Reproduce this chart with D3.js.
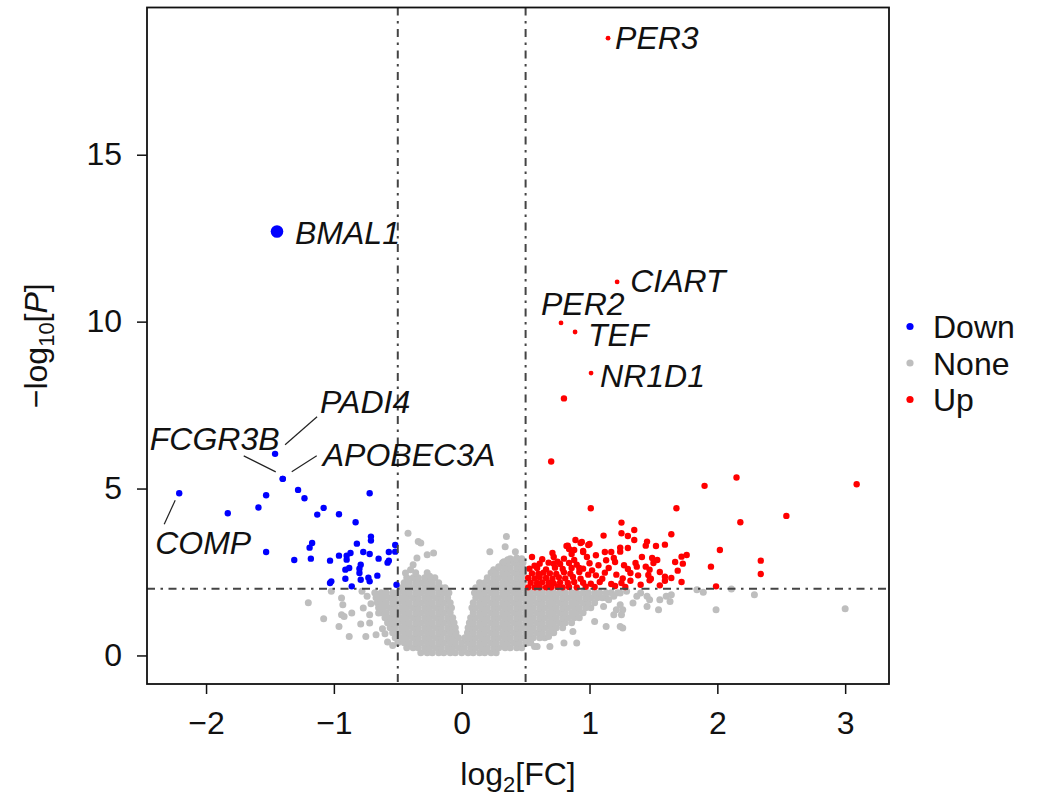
<!DOCTYPE html>
<html>
<head>
<meta charset="utf-8">
<script src="https://cdn.jsdelivr.net/npm/d3@7"></script>
<style>
  body { margin: 0; background: #fff; }
  svg { display: block; }
  text { font-family: "Liberation Sans", Arial, Helvetica, sans-serif; }
</style>
</head>
<body>
<div id="chart"></div>
<script>
// cut-offs and ticks
const fcCut = 0.5
const pCut = 2
const xTicks = [-2, -1, 0, 1, 2, 3]
const yTicks = [0, 5, 10, 15]
const groups = ['Down', 'None', 'Up']

// labelled genes: [gene, log2FC, -log10P, group]
const labelled = [
  ['PER3', 1.145, 18.49, 'Up'],
  ['BMAL1', -1.445, 12.70, 'Down'],
  ['CIART', 1.216, 11.19, 'Up'],
  ['PER2', 0.777, 9.96, 'Up'],
  ['TEF', 0.887, 9.69, 'Up'],
  ['NR1D1', 1.012, 8.46, 'Up'],
  ['PADI4', -1.46, 6.04, 'Down'],
  ['FCGR3B', -1.40, 5.29, 'Down'],
  ['APOBEC3A', -1.40, 5.29, 'Down'],
  ['COMP', -2.21, 4.86, 'Down']
]

// up-regulated genes [log2FC, -log10P]
const upPoints = [
  [0.80,7.70],[0.70,5.81],[1.01,4.41],[1.68,4.41],[1.90,5.08],[2.15,5.33],[3.09,5.13],[2.54,4.18],[2.18,3.99],[2.02,3.16],
  [2.34,2.84],[2.34,2.44],[1.95,2.66],[1.99,2.07],[1.25,3.98],[1.35,3.76],[1.25,3.66],[1.30,3.58],[1.35,3.46],[1.11,3.59],
  [1.64,3.63],[0.89,3.46],[0.94,3.40],[1.00,3.34],[0.83,3.29],[0.84,3.19],[0.88,3.16],[0.86,3.04],[0.95,3.10],[1.12,3.10],
  [1.17,3.10],[1.19,2.92],[1.24,3.23],[1.24,3.11],[1.45,3.41],[1.44,3.29],[1.52,3.28],[1.59,3.32],[1.76,3.01],[1.72,2.96],
  [1.67,2.80],[1.73,2.75],[1.69,2.54],[1.72,2.20],[1.49,2.92],[1.53,2.86],[1.50,2.77],[1.36,2.77],[1.37,2.66],[1.30,2.59],
  [1.32,2.47],[1.44,2.66],[1.47,2.57],[1.46,2.41],[1.55,2.50],[1.59,2.36],[1.64,2.32],[1.59,2.24],[1.48,2.30],[1.47,2.25],
  [1.26,2.31],[1.25,2.17],[1.32,2.24],[1.17,2.14],[1.08,2.20],[1.10,2.30],[0.71,3.07],[0.55,2.95],[0.57,2.69],[0.72,2.95],
  [0.75,2.81],[0.72,2.75],[0.82,3.28],[0.93,3.37],[0.99,3.31],[0.95,3.13],[1.30,3.22],
  [0.52,2.04],[0.57,2.04],[0.61,2.04],[0.66,2.04],[0.70,2.04],[0.75,2.05],[0.79,2.04],[0.84,2.05],[0.90,2.04],[0.97,2.06],[1.04,2.05],
  [0.54,2.18],[0.59,2.17],[0.63,2.19],[0.68,2.18],[0.72,2.16],[0.77,2.19],[0.83,2.17],[0.88,2.20],[0.95,2.18],[1.01,2.15],
  [0.52,2.32],[0.57,2.31],[0.61,2.34],[0.66,2.32],[0.71,2.30],[0.76,2.34],[0.81,2.31],[0.87,2.35],[0.93,2.30],
  [0.55,2.46],[0.60,2.45],[0.64,2.48],[0.69,2.46],[0.74,2.44],[0.80,2.49],[0.85,2.45],[0.92,2.50],[0.99,2.42],
  [0.53,2.60],[0.59,2.62],[0.66,2.58],[0.73,2.63],[0.79,2.59],[0.86,2.62],[0.95,2.60],
  [0.61,2.75],[0.68,2.78],[0.77,2.74],[0.84,2.77],[0.90,2.72],[1.00,2.76],
  [0.63,2.88],[0.80,2.90],[0.88,2.86],[1.02,2.55],[1.05,2.40],[1.12,2.48],[1.15,2.62],[1.20,2.80],[1.07,2.70],[1.21,2.42],
  [0.98,2.95],[1.05,3.00],[1.40,2.12],[1.55,2.10],[1.38,2.40],[1.20,2.08],[0.92,2.62],[1.28,2.05],[1.13,2.85],[1.41,2.95],[1.27,2.70]
]

// down-regulated genes [log2FC, -log10P]
const downPoints = [
  [-1.53,4.80],[-1.28,4.96],[-1.23,4.71],[-0.72,4.86],[-1.83,4.26],[-1.59,4.43],[-1.08,4.42],[-1.13,4.22],[-0.96,4.23],[-0.83,3.99],
  [-0.71,3.56],[-0.71,3.44],[-0.82,3.35],[-1.17,3.37],[-1.19,3.23],[-1.53,3.10],[-1.31,2.86],[-1.18,2.90],[-1.03,2.84],[-0.96,2.99],
  [-0.90,2.99],[-0.87,3.07],[-0.77,3.10],[-0.72,3.04],[-0.65,2.90],[-0.57,3.10],[-0.52,3.31],[-0.52,3.11],[-0.58,2.78],[-0.57,2.84],
  [-0.91,2.57],[-0.88,2.62],[-0.80,2.60],[-0.80,2.47],[-0.79,2.72],[-0.91,2.30],[-0.79,2.27],[-0.73,2.33],[-0.72,2.22],[-0.66,2.39],
  [-1.03,2.17],[-1.02,2.22],[-0.86,2.07],[-0.51,2.12],[-0.90,2.87]
]

// non-significant genes, dense core read row by row: [-log10P, [log2FC ...]]
const noneRows = [
  [0.08, [-0.32,-0.27,-0.23,-0.18,-0.14,-0.09,-0.05,0,0.05,0.09,0.14,0.18,0.23,0.27]],
  [0.23, [-0.43,-0.38,-0.34,-0.29,-0.25,-0.20,-0.16,-0.11,-0.07,-0.02,0.02,0.07,0.11,0.16,0.20,0.25,0.29,0.34,0.38,0.43,0.47]],
  [0.38, [-0.50,-0.45,-0.41,-0.36,-0.32,-0.27,-0.23,-0.18,-0.14,-0.09,-0.05,0,0.05,0.09,0.14,0.18,0.23,0.27,0.32,0.36,0.41,0.45,0.50,0.54]],
  [0.53, [-0.52,-0.47,-0.43,-0.38,-0.34,-0.29,-0.25,-0.20,-0.16,-0.11,-0.07,-0.025,0.025,0.07,0.11,0.16,0.20,0.25,0.29,0.34,0.38,0.43,0.47,0.52,0.56,0.61,0.65]],
  [0.68, [-0.54,-0.50,-0.45,-0.41,-0.36,-0.32,-0.27,-0.23,-0.18,-0.14,-0.09,-0.045,0.045,0.09,0.14,0.18,0.23,0.27,0.32,0.36,0.41,0.45,0.50,0.54,0.59,0.63,0.68,0.72]],
  [0.83, [-0.56,-0.52,-0.47,-0.43,-0.38,-0.34,-0.29,-0.25,-0.20,-0.16,-0.11,-0.07,-0.05,0.05,0.07,0.11,0.16,0.20,0.25,0.29,0.34,0.38,0.43,0.47,0.52,0.56,0.61,0.65,0.70,0.74,0.79]],
  [0.98, [-0.58,-0.54,-0.50,-0.45,-0.41,-0.36,-0.32,-0.27,-0.23,-0.18,-0.14,-0.09,-0.06,0.06,0.09,0.14,0.18,0.23,0.27,0.32,0.36,0.41,0.45,0.50,0.54,0.59,0.63,0.68,0.72,0.77,0.81,0.86]],
  [1.13, [-0.60,-0.56,-0.52,-0.47,-0.43,-0.38,-0.34,-0.29,-0.25,-0.20,-0.16,-0.11,-0.07,0.07,0.11,0.16,0.20,0.25,0.29,0.34,0.38,0.43,0.47,0.52,0.56,0.61,0.65,0.70,0.74,0.79,0.83,0.88,0.92]],
  [1.28, [-0.63,-0.59,-0.54,-0.50,-0.45,-0.41,-0.36,-0.32,-0.27,-0.23,-0.18,-0.14,-0.09,0.09,0.14,0.18,0.23,0.27,0.32,0.36,0.41,0.45,0.50,0.54,0.59,0.63,0.68,0.72,0.77,0.81,0.86,0.90,0.95]],
  [1.43, [-0.65,-0.61,-0.56,-0.52,-0.47,-0.43,-0.38,-0.34,-0.29,-0.25,-0.20,-0.16,-0.11,-0.08,0.08,0.11,0.16,0.20,0.25,0.29,0.34,0.38,0.43,0.47,0.52,0.56,0.61,0.65,0.70,0.74,0.79,0.83,0.88,0.92,0.97,1.01]],
  [1.58, [-0.66,-0.63,-0.59,-0.54,-0.50,-0.45,-0.41,-0.36,-0.32,-0.27,-0.23,-0.18,-0.14,-0.09,0.09,0.14,0.18,0.23,0.27,0.32,0.36,0.41,0.45,0.50,0.54,0.59,0.63,0.68,0.72,0.77,0.81,0.86,0.90,0.95,0.99,1.04]],
  [1.73, [-0.67,-0.65,-0.61,-0.56,-0.52,-0.47,-0.43,-0.38,-0.34,-0.29,-0.25,-0.20,-0.16,-0.11,0.11,0.16,0.20,0.25,0.29,0.34,0.38,0.43,0.47,0.52,0.56,0.61,0.65,0.70,0.74,0.79,0.83,0.88,0.92,0.97,1.01,1.06,1.10,1.13]],
  [1.88, [-0.68,-0.63,-0.59,-0.54,-0.50,-0.45,-0.41,-0.36,-0.32,-0.27,-0.23,-0.18,-0.14,-0.10,0.10,0.14,0.18,0.23,0.27,0.32,0.36,0.41,0.45,0.50,0.54,0.59,0.63,0.68,0.72,0.77,0.81,0.86,0.90,0.95,0.99,1.04,1.08,1.13,1.17,1.22]],
  [2.03, [-0.47,-0.43,-0.38,-0.34,-0.29,-0.25,-0.20,-0.16,-0.13,0.11,0.16,0.20,0.25,0.29,0.34,0.38,0.43,0.47]],
  [2.18, [-0.45,-0.41,-0.36,-0.32,-0.27,-0.23,-0.18,0.14,0.18,0.23,0.27,0.32,0.36,0.41,0.45,0.48]],
  [2.33, [-0.43,-0.38,-0.34,-0.29,-0.25,-0.21,0.20,0.25,0.29,0.34,0.38,0.43,0.47]],
  [2.48, [-0.36,-0.27,0.23,0.27,0.32,0.36,0.41,0.45,0.48]],
  [2.63, [0.29,0.34,0.38,0.43,0.47]],
  [2.78, [0.32,0.36,0.41,0.45,0.48]],
  [2.90, [0.38,0.43,0.47]]
]

// non-significant genes outside the core [log2FC, -log10P]
const noneScatter = [
  [-1.20,1.58],[-1.08,1.10],[-0.96,0.87],[-0.94,1.22],[-0.92,1.17],[-0.86,1.27],[-0.93,1.52],[-0.94,1.72],[-1.02,1.92],[-0.88,0.57],
  [-0.75,0.57],[-0.67,0.62],[-0.79,0.94],[-0.72,0.97],[-0.72,1.22],[-0.65,1.27],[-0.77,1.42],[-0.74,1.77],[-0.78,1.92],[-0.71,1.55],
  [-0.62,0.80],[-0.58,0.40],[-0.54,0.30],[-0.60,0.65],
  [-0.42,3.66],[-0.34,3.41],[-0.32,3.37],[-0.22,3.07],[-0.27,3.02],[-0.35,2.92],[-0.40,2.57],[-0.38,2.72],[-0.25,2.37],[-0.44,2.47],
  [0.35,3.56],[0.34,3.26],[0.22,3.11],[0.42,3.11],[0.33,2.81],[0.36,2.87],[0.43,2.92],[0.25,2.57],[0.29,2.66],
  [1.19,1.77],[1.24,1.87],[1.29,1.92],[1.37,1.77],[1.40,1.87],[1.45,1.77],[1.47,1.67],[1.55,1.67],[1.60,1.77],[1.64,1.82],
  [1.63,1.62],[1.45,1.47],[1.54,1.37],[1.26,1.37],[1.24,1.52],[1.34,1.57],[1.19,1.22],[1.25,1.22],[1.13,0.87],[1.24,0.87],
  [1.26,0.82],[1.04,1.02],[1.21,1.37],[1.15,1.67],[1.11,1.47],[0.90,0.37],[0.80,0.37],[0.69,0.27],[0.59,0.27],[0.87,0.72],
  [0.68,0.57],[0.51,0.37],[0.57,0.27],
  [1.84,1.97],[1.89,1.89],[1.99,1.37],[2.11,1.99],[2.29,1.82],[3.00,1.40]
]

const colors = { Down: '#0000ff', None: '#bebebe', Up: '#ff0000' }

// label placement, pixel offsets from the point
const labelLayout = {
  PER3: { dx: 7, dy: 11 },
  BMAL1: { dx: 18, dy: 13 },
  CIART: { dx: 13, dy: 10 },
  PER2: { dx: -20, dy: -8 },
  TEF: { dx: 13, dy: 14 },
  NR1D1: { dx: 9, dy: 14 },
  PADI4: { dx: 45, dy: -41, line: [10, -9, 42, -37] },
  FCGR3B: { dx: -133, dy: -29, line: [-7, -7, -39, -23] },
  APOBEC3A: { dx: 40, dy: -13, line: [9, -7, 34, -23] },
  COMP: { dx: -24, dy: 61, line: [-4, 7, -15, 31] }
}

const width = 1045, height = 804
const plot = { left: 147, right: 889, top: 7.5, bottom: 684 }

const x = d3.scaleLinear().domain([-2.462, 3.343]).range([plot.left, plot.right])
const y = d3.scaleLinear().domain([-0.855, 19.41]).range([plot.bottom, plot.top])

const svg = d3.select('#chart')
  .append('svg')
  .attr('width', width)
  .attr('height', height)

const none = noneRows.flatMap(([p, fcs]) => fcs.map(fc => [fc, p])).concat(noneScatter)

svg.append('g')
  .selectAll('circle')
  .data(none)
  .enter()
  .append('circle')
  .attr('cx', d => x(d[0]))
  .attr('cy', d => y(d[1]))
  .attr('r', 3.5)
  .style('fill', colors.None)

svg.append('g')
  .selectAll('circle')
  .data(upPoints)
  .enter()
  .append('circle')
  .attr('cx', d => x(d[0]))
  .attr('cy', d => y(d[1]))
  .attr('r', 3.2)
  .style('fill', colors.Up)

svg.append('g')
  .selectAll('circle')
  .data(downPoints)
  .enter()
  .append('circle')
  .attr('cx', d => x(d[0]))
  .attr('cy', d => y(d[1]))
  .attr('r', 3.2)
  .style('fill', colors.Down)

svg.append('g')
  .selectAll('circle')
  .data(labelled)
  .enter()
  .append('circle')
  .attr('cx', d => x(d[1]))
  .attr('cy', d => y(d[2]))
  .attr('r', d => d[0] === 'BMAL1' ? 6.3 : (d[3] === 'Up' ? 2.4 : 3.2))
  .style('fill', d => colors[d[3]])

// threshold lines
const cuts = svg.append('g')
  .attr('stroke', '#444')
  .attr('stroke-width', 2)
  .attr('stroke-dasharray', '8,5.5,2.5,5.5')
cuts.selectAll('line.v')
  .data([-fcCut, fcCut])
  .enter()
  .append('line')
  .attr('x1', d => x(d)).attr('x2', d => x(d))
  .attr('y1', plot.top).attr('y2', plot.bottom)
cuts.append('line')
  .attr('x1', plot.left).attr('x2', plot.right)
  .attr('y1', y(pCut)).attr('y2', y(pCut))

// frame
svg.append('rect')
  .attr('x', plot.left)
  .attr('y', plot.top)
  .attr('width', plot.right - plot.left)
  .attr('height', plot.bottom - plot.top)
  .attr('fill', 'none')
  .attr('stroke', '#111')
  .attr('stroke-width', 1.8)

// axes
const styleAxis = g => {
  g.select('.domain').remove()
  g.selectAll('.tick line').attr('stroke', '#111').attr('stroke-width', 1.5)
  g.selectAll('.tick text').attr('font-size', 32).attr('fill', '#111')
    .style('font-family', '"Liberation Sans", Arial, Helvetica, sans-serif')
}

svg.append('g')
  .attr('transform', 'translate(0,' + plot.bottom + ')')
  .call(d3.axisBottom(x).tickValues(xTicks).tickSize(10).tickPadding(17).tickFormat(d3.format('d')))
  .call(styleAxis)

svg.append('g')
  .attr('transform', 'translate(' + plot.left + ',0)')
  .call(d3.axisLeft(y).tickValues(yTicks).tickSize(10).tickPadding(15).tickFormat(d3.format('d')))
  .call(styleAxis)

// axis titles
const xt = svg.append('text')
  .attr('x', (plot.left + plot.right) / 2)
  .attr('y', 785)
  .attr('text-anchor', 'middle')
  .attr('font-size', 32)
  .attr('fill', '#111')
xt.append('tspan').text('log')
xt.append('tspan').attr('font-size', 22).attr('dy', 7).text('2')
xt.append('tspan').attr('dy', -7).text('[FC]')

const yt = svg.append('text')
  .attr('transform', 'translate(47,' + (plot.top + plot.bottom) / 2 + ') rotate(-90)')
  .attr('text-anchor', 'middle')
  .attr('font-size', 32)
  .attr('fill', '#111')
yt.append('tspan').text('\u2212log')
yt.append('tspan').attr('font-size', 22).attr('dy', 7).text('10')
yt.append('tspan').attr('dy', -7).text('[')
yt.append('tspan').attr('font-style', 'italic').text('P')
yt.append('tspan').text(']')

// gene labels and leader lines
const lab = svg.append('g')
lab.selectAll('line')
  .data(labelled.filter(d => labelLayout[d[0]].line))
  .enter()
  .append('line')
  .attr('x1', d => x(d[1]) + labelLayout[d[0]].line[0])
  .attr('y1', d => y(d[2]) + labelLayout[d[0]].line[1])
  .attr('x2', d => x(d[1]) + labelLayout[d[0]].line[2])
  .attr('y2', d => y(d[2]) + labelLayout[d[0]].line[3])
  .attr('stroke', '#222')
  .attr('stroke-width', 1.2)
lab.selectAll('text')
  .data(labelled)
  .enter()
  .append('text')
  .attr('x', d => x(d[1]) + labelLayout[d[0]].dx)
  .attr('y', d => y(d[2]) + labelLayout[d[0]].dy)
  .attr('font-size', 32)
  .attr('font-style', 'italic')
  .attr('fill', '#111')
  .text(d => d[0])

// legend
const leg = svg.append('g')
  .selectAll('g')
  .data(groups)
  .enter()
  .append('g')
  .attr('transform', (d, i) => 'translate(910,' + (326.5 + i * 36.5) + ')')
leg.append('circle')
  .attr('r', 3.6)
  .style('fill', d => colors[d])
leg.append('text')
  .attr('x', 23)
  .attr('y', 11.5)
  .attr('font-size', 32)
  .attr('fill', '#111')
  .text(d => d)
</script>
</body>
</html>
